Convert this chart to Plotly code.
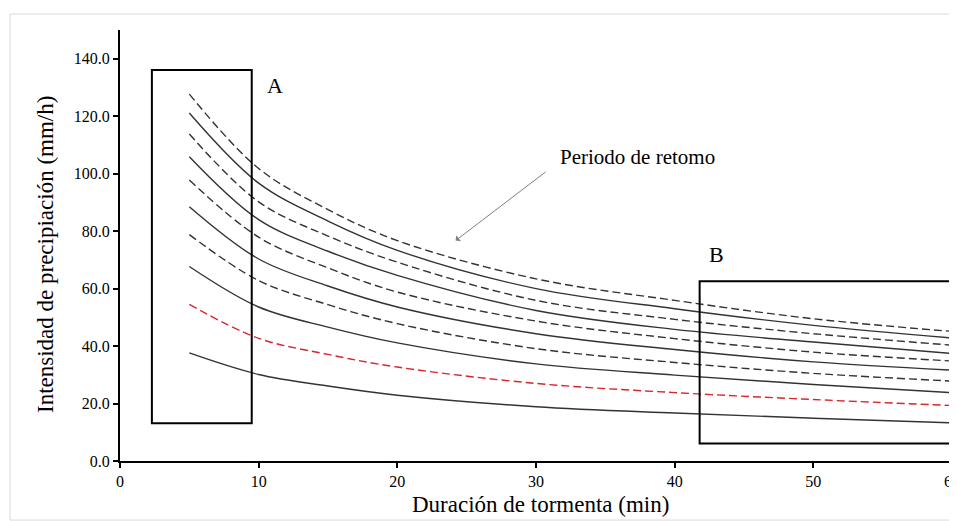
import plotly.graph_objects as go

# Storm duration (min)
durations = [5, 10, 15, 20, 30, 40, 50, 60]

# Precipitation intensity (mm/h) for each return period curve (top to bottom)
curve_1 = [127.7, 101.8, 87.5, 76.7, 63.4, 55.9, 49.5, 45.1]
curve_2 = [121.1, 96.7, 83.5, 73.3, 60.0, 53.0, 47.2, 42.8]
curve_3 = [113.8, 90.2, 78.3, 69.2, 55.9, 49.3, 44.3, 40.3]
curve_4 = [105.9, 84.0, 73.0, 64.6, 52.4, 45.8, 41.4, 37.4]
curve_5 = [97.8, 77.9, 67.2, 58.8, 48.7, 42.6, 37.9, 34.8]
curve_6 = [88.5, 70.3, 60.9, 53.6, 44.3, 38.8, 34.5, 31.6]
curve_7 = [78.8, 62.8, 54.4, 47.8, 39.1, 34.3, 30.5, 27.8]
curve_8 = [67.7, 53.6, 46.6, 41.1, 33.8, 29.9, 26.6, 23.8]
curve_9 = [54.5, 42.7, 37.1, 32.7, 27.0, 23.8, 21.4, 19.3]
curve_10 = [37.6, 30.1, 26.1, 22.9, 18.9, 16.7, 14.9, 13.3]

curves = [curve_1, curve_2, curve_3, curve_4, curve_5,
          curve_6, curve_7, curve_8, curve_9, curve_10]
styles = ["dash", "solid", "dash", "solid", "dash",
          "solid", "dash", "solid", "dash", "solid"]
colors = ["#333333"] * 8 + ["#d8262d", "#333333"]

# Highlight boxes (x0, x1, y0, y1)
box_a = [2.3, 9.5, 13.1, 136.1]
box_b = [41.8, 60.0, 6.1, 62.6]

x_ticks = [0, 10, 20, 30, 40, 50, 60]
y_ticks = [0, 20, 40, 60, 80, 100, 120, 140]

SERIF = "Liberation Serif"

fig = go.Figure()
for vals, st, col in zip(curves, styles, colors):
    fig.add_trace(go.Scatter(
        x=durations, y=vals, mode="lines",
        line=dict(color=col, width=1.4, shape="spline", smoothing=1.0,
                  dash="8px,4px" if st == "dash" else "solid"),
        showlegend=False, hoverinfo="skip"))

for b in (box_a, box_b):
    fig.add_shape(type="rect", xref="x", yref="y",
                  x0=b[0], x1=b[1], y0=b[2], y1=b[3],
                  line=dict(color="black", width=2), fillcolor="rgba(0,0,0,0)")

# outer light frame of the chart
fig.add_shape(type="rect", xref="paper", yref="paper",
              x0=-0.1322, x1=1.05, y0=-0.137, y1=1.037,
              line=dict(color="#d9d9d9", width=1), layer="below")

fig.add_annotation(x=11.2, y=130.6, text="A", showarrow=False,
                   font=dict(family=SERIF, size=22, color="black"))
fig.add_annotation(x=43.0, y=71.9, text="B", showarrow=False,
                   font=dict(family=SERIF, size=22, color="black"))
fig.add_annotation(x=37.3, y=105.8, text="Periodo de retomo", showarrow=False,
                   font=dict(family=SERIF, size=21, color="black"))
fig.add_annotation(x=24.2, y=76.7, ax=30.8, ay=101.0, axref="x", ayref="y",
                   xref="x", yref="y", text="", showarrow=True,
                   arrowhead=1, arrowsize=1.3, arrowwidth=1, arrowcolor="#808080")

# axis titles
fig.add_annotation(xref="paper", yref="paper", x=0.505, y=-0.102,
                   xanchor="center", yanchor="middle",
                   text="Duración de tormenta (min)", showarrow=False,
                   font=dict(family=SERIF, size=23, color="black"))
fig.add_annotation(xref="paper", yref="paper", x=-0.0889, y=0.478,
                   xanchor="center", yanchor="middle",
                   text="Intensidad de precipiación (mm/h)", showarrow=False,
                   textangle=-90, font=dict(family=SERIF, size=23, color="black"))

# page has an 8px body margin: shrink the figure so the plot area lands in place
fig.update_layout(
    width=949, height=513,
    margin=dict(l=112, r=5, t=22, b=60, autoexpand=False),
    paper_bgcolor="white", plot_bgcolor="white",
    font=dict(family=SERIF, color="black"),
    xaxis=dict(range=[0, 60], tickvals=x_ticks, ticktext=[str(v) for v in x_ticks],
               showgrid=False, zeroline=False, showline=True, linecolor="black",
               linewidth=2, ticks="outside", ticklen=5, tickwidth=2, tickcolor="black",
               tickfont=dict(family=SERIF, size=16, color="black"), automargin=False,
               ticklabeloverflow="allow"),
    yaxis=dict(range=[0, 150], tickvals=y_ticks, ticktext=[f"{v:.1f}" for v in y_ticks],
               showgrid=False, zeroline=False, showline=True, linecolor="black",
               linewidth=2, ticks="outside", ticklen=5, tickwidth=2, tickcolor="black",
               tickfont=dict(family=SERIF, size=16, color="black"), automargin=False),
)

fig.write_html("out.html")
